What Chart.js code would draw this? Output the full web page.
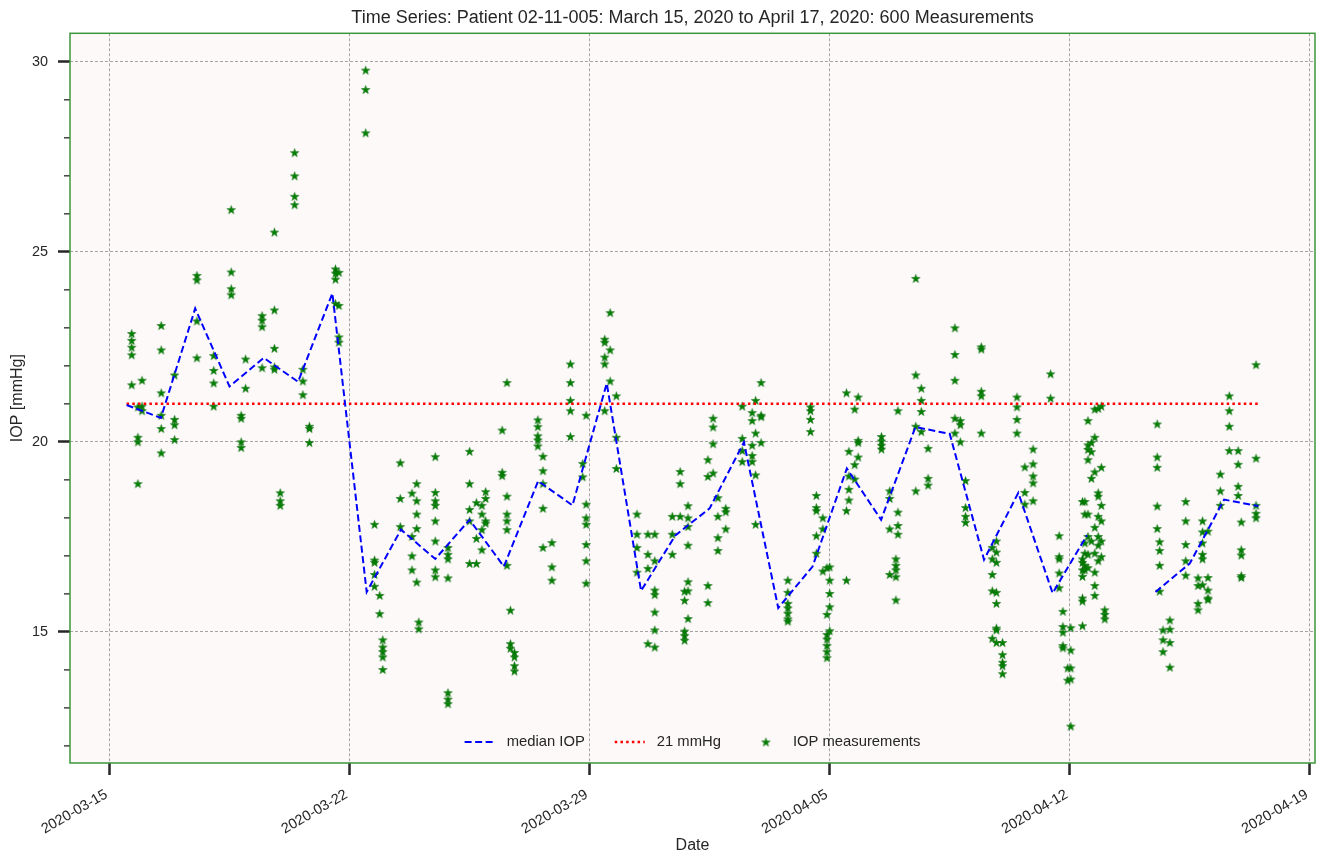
<!DOCTYPE html>
<html>
<head>
<meta charset="utf-8">
<title>IOP time series</title>
<script src="https://cdn.jsdelivr.net/npm/chart.js@4.4.1/dist/chart.umd.min.js"></script>
<style>
  html, body { margin: 0; padding: 0; background: #fff; }
  #chart { display: block; }
</style>
</head>
<body>
<canvas id="chart" width="1321" height="855"></canvas>
<script>
// x values are days since 2020-03-15 00:00
const dateTickDays = [0, 7, 14, 21, 28, 35];
const dateTickLabels = ['2020-03-15', '2020-03-22', '2020-03-29', '2020-04-05', '2020-04-12', '2020-04-19'];

// daily median, one per day from 2020-03-15 (null = no measurements that day)
const medianIop = [20.97, 20.63, 23.51, 21.46, 22.21, 21.58, 23.91, 16.05, 17.69, 16.92,
                   17.95, 16.72, 18.97, 18.33, 21.54, 16.08, 17.54, 18.25, 19.99, 15.63,
                   16.72, 19.30, 17.95, 20.39, 20.21, 16.90, 18.66, 16.02, 17.54, null,
                   16.05, 16.80, 18.48, 18.31];
const medianDays = medianIop.map((_, i) => i + 0.5);

const thresholdIop = 21;
const thresholdDays = [0.5, 33.5];

// measurement sessions: [day, [IOP values]]
const measurementColumns = [
  [0.65, [22.85, 22.67, 22.49, 22.29, 21.5]],
  [0.83, [20.92, 20.12, 20.0, 18.9]],
  [0.95, [21.62, 20.94, 20.82]],
  [1.51, [23.06, 22.42, 21.29, 20.7, 20.35, 19.71]],
  [1.9, [21.76, 20.59, 20.45, 20.06]],
  [2.55, [24.38, 24.26, 23.18, 22.21]],
  [3.04, [22.27, 21.88, 21.55, 20.94]],
  [3.55, [26.11, 24.47, 24.03, 23.87]],
  [3.84, [20.7, 20.62, 20.0, 19.85]],
  [3.97, [22.18, 21.41]],
  [4.45, [23.32, 23.2, 23.03, 21.95]],
  [4.81, [25.52, 23.47, 22.46, 21.97, 21.91]],
  [4.98, [18.66, 18.45, 18.33]],
  [5.4, [27.61, 27.0, 26.46, 26.24]],
  [5.64, [21.91, 21.6, 21.24]],
  [5.83, [20.41, 20.35, 19.98]],
  [6.59, [24.55, 24.44, 24.28, 23.64]],
  [6.69, [24.46, 23.59, 22.76, 22.62]],
  [7.47, [29.78, 29.27, 28.13]],
  [7.73, [17.83, 16.89, 16.83, 16.51, 16.2]],
  [7.88, [15.96, 15.48]],
  [7.97, [14.79, 14.6, 14.48, 14.34, 14.01]],
  [8.48, [19.45, 18.51, 17.77]],
  [8.82, [18.65, 17.51, 17.0, 16.63]],
  [8.96, [18.9, 18.45, 18.1, 17.72, 16.31]],
  [9.02, [15.26, 15.08]],
  [9.5, [19.61, 18.67, 18.45, 18.33, 17.92, 17.39, 16.63, 16.45]],
  [9.87, [17.22, 17.04, 16.92, 16.42, 13.4, 13.23, 13.11]],
  [10.5, [19.75, 18.9, 18.22, 17.92, 16.8]],
  [10.7, [18.4, 17.46, 16.8]],
  [10.86, [18.33, 18.1, 17.69, 17.16]],
  [10.97, [18.69, 18.51, 17.92, 17.86]],
  [11.45, [20.31, 19.2, 19.11]],
  [11.59, [21.56, 18.57, 18.1, 17.92, 17.69, 16.75]],
  [11.69, [15.57, 14.69, 14.57]],
  [11.81, [14.46, 14.34, 14.11, 13.97]],
  [12.49, [20.58, 20.4, 20.16, 20.05, 19.89]],
  [12.64, [19.62, 19.24, 18.9, 18.25, 17.22]],
  [12.9, [17.35, 16.71, 16.36]],
  [13.44, [22.05, 21.56, 21.09, 20.82, 20.14]],
  [13.8, [19.43, 19.08]],
  [13.9, [20.7, 18.36, 18.0, 17.83, 17.3, 16.87, 16.28]],
  [14.44, [22.7, 22.62, 22.23, 22.05, 20.82]],
  [14.6, [23.4, 22.42, 21.6]],
  [14.78, [21.21, 20.12, 19.3]],
  [15.38, [18.1, 17.57, 17.22, 16.57]],
  [15.7, [17.57, 17.04, 16.67, 14.69]],
  [15.9, [17.57, 16.87, 16.1, 15.98, 15.52, 15.05, 14.6]],
  [16.41, [18.04, 17.57, 17.04]],
  [16.64, [19.22, 18.04, 18.9]],
  [16.77, [16.07, 15.83, 15.02, 14.9, 14.78]],
  [16.87, [18.32, 18.0, 17.77, 17.28, 16.32, 16.08, 15.35]],
  [17.45, [19.53, 19.09, 16.22, 15.77]],
  [17.6, [20.62, 20.39, 19.95, 19.18]],
  [17.74, [18.53, 18.04, 17.48, 17.14]],
  [17.97, [18.25, 18.16, 17.71]],
  [18.45, [20.94, 20.09, 19.77, 19.48]],
  [18.74, [20.77, 20.56, 19.91, 19.64, 19.48]],
  [18.84, [21.09, 20.23, 19.13, 17.83]],
  [19.0, [21.56, 20.7, 20.66, 19.98]],
  [19.78, [16.36, 16.04, 15.75, 15.63, 15.49, 15.34, 15.28]],
  [20.44, [20.92, 20.82, 20.59, 20.27]],
  [20.61, [18.59, 18.27, 18.19, 17.53, 17.07]],
  [20.8, [18.0, 17.71, 16.6]],
  [20.92, [16.69, 15.46, 14.93, 14.81, 14.64, 14.48, 14.32]],
  [21.0, [16.71, 16.36, 16.01, 15.66, 15.03]],
  [21.49, [21.29, 18.19, 16.36]],
  [21.56, [19.75, 19.1, 18.75, 18.47]],
  [21.73, [20.86, 19.4, 19.02]],
  [21.83, [21.18, 20.04, 19.98, 19.6]],
  [22.51, [20.14, 20.02, 19.91, 19.81]],
  [22.75, [18.71, 18.51, 17.71, 16.51]],
  [22.93, [16.92, 16.75, 16.63, 16.45, 15.84]],
  [22.99, [20.82, 18.15, 17.8, 17.57]],
  [23.51, [24.3, 21.76, 20.41, 18.71]],
  [23.67, [21.41, 21.09, 20.8, 20.27]],
  [23.87, [19.83, 19.04, 18.86]],
  [24.65, [23.0, 22.3, 21.62, 20.62, 20.23]],
  [24.81, [20.56, 20.45, 20.0]],
  [24.96, [18.98, 18.27, 18.04, 17.88]],
  [25.42, [22.5, 22.44, 21.33, 21.21, 20.23]],
  [25.74, [17.22, 16.92, 16.51, 16.08, 14.83]],
  [25.86, [17.39, 17.1, 16.83, 16.04, 15.75, 15.1, 15.05, 14.72]],
  [26.04, [14.72, 14.4, 14.2, 14.11, 13.9]],
  [26.46, [21.18, 20.92, 20.59, 20.23]],
  [26.69, [19.34, 18.67, 18.36]],
  [26.93, [19.81, 19.42, 19.1, 18.92, 18.45]],
  [27.44, [21.79, 21.15]],
  [27.69, [17.53, 16.98, 16.92, 16.55, 16.16]],
  [27.8, [15.54, 15.14, 14.99, 14.64, 14.58]],
  [27.94, [14.05, 13.73]],
  [28.03, [15.11, 14.52, 14.05, 13.76, 12.52]],
  [28.37, [18.43, 16.92, 16.83, 16.63, 16.46, 15.89, 15.81, 15.16]],
  [28.44, [18.43, 18.10, 17.34, 17.07, 16.75, 16.63]],
  [28.53, [20.56, 19.92, 19.80, 19.53, 18.10, 17.51, 17.04, 16.69]],
  [28.63, [19.98, 19.74, 19.04, 17.39]],
  [28.73, [20.86, 20.12, 19.21, 17.75, 17.07, 16.57, 16.22, 15.96]],
  [28.83, [20.88, 18.66, 18.57, 18.04, 17.51, 17.28, 16.87]],
  [28.92, [20.94, 19.33, 18.33, 17.92, 17.39, 16.98]],
  [29.02, [15.58, 15.46, 15.34]],
  [30.55, [20.47, 19.60, 19.33, 18.31, 17.72]],
  [30.62, [17.37, 17.14, 16.75, 16.07]],
  [30.72, [15.05, 14.79, 14.48]],
  [30.92, [15.31, 15.07, 14.72, 14.07]],
  [31.38, [18.43, 17.92, 17.30, 16.87, 16.49]],
  [31.74, [16.42, 16.22, 15.75, 15.58]],
  [31.87, [17.92, 17.63, 17.34, 17.04, 16.92, 16.24]],
  [32.03, [17.65, 16.43, 16.10, 15.89, 15.85]],
  [32.39, [19.15, 18.71, 18.33]],
  [32.65, [21.21, 20.82, 20.41, 19.77]],
  [32.91, [19.77, 19.41, 18.83, 18.59]],
  [33.0, [17.89, 17.16, 17.02, 16.48, 16.43]],
  [33.43, [22.03, 19.57, 18.33, 18.12, 18.0]]
];

const FONT = '"Liberation Sans", Arial, Helvetica, sans-serif';
const TEXT = '#262626';
const GRID = '#9a9a9a';

Chart.defaults.font.family = FONT;
Chart.defaults.color = TEXT;

// filled five-pointed star like matplotlib's '*' marker
function makeStar(r, fill) {
    const size = Math.ceil(r * 2) + 2;
    const c = document.createElement('canvas');
    c.width = size;
    c.height = size;
    const g = c.getContext('2d');
    g.translate(size / 2, size / 2 + r * 0.1);
    g.beginPath();
    for (let i = 0; i < 10; i++) {
        const rr = i % 2 ? r * 0.39 : r;
        const a = -Math.PI / 2 + i * Math.PI / 5;
        g.lineTo(rr * Math.cos(a), rr * Math.sin(a));
    }
    g.closePath();
    g.fillStyle = fill;
    g.fill();
    g.strokeStyle = '#006400';
    g.lineWidth = 0.5;
    g.stroke();
    return c;
}
const starImg = makeStar(4.5, '#008000');

const measurements = measurementColumns.flatMap(([day, vals]) => vals.map(v => ({ x: day, y: v })));

// plot background, frame, minor ticks and the in-plot legend
const plotDecor = {
    id: 'plotDecor',
    beforeDraw(chart) {
        const { ctx, chartArea: a } = chart;
        ctx.save();
        ctx.fillStyle = '#ffffff';
        ctx.fillRect(0, 0, chart.width, chart.height);
        ctx.fillStyle = '#fcf9f8';
        ctx.fillRect(a.left, a.top, a.right - a.left, a.bottom - a.top);
        ctx.restore();
    },
    afterDraw(chart) {
        const { ctx, chartArea: a } = chart;
        const yScale = chart.scales.y;
        ctx.save();

        // minor y ticks
        ctx.strokeStyle = TEXT;
        ctx.lineWidth = 1.3;
        for (let v = Math.ceil(yScale.min); v <= yScale.max; v++) {
            if (v % 5 === 0) continue;
            const py = yScale.getPixelForValue(v);
            ctx.beginPath();
            ctx.moveTo(a.left - 6, py);
            ctx.lineTo(a.left, py);
            ctx.stroke();
        }

        // frame
        ctx.strokeStyle = '#3c963c';
        ctx.lineWidth = 1.5;
        ctx.strokeRect(a.left, a.top, a.right - a.left, a.bottom - a.top);

        // legend
        const ds = chart.data.datasets;
        const handle = 30, pad = 12, gap = 30;
        ctx.font = '14.8px ' + FONT;
        const widths = ds.map(d => handle + pad + ctx.measureText(d.label).width);
        const total = widths.reduce((s, w) => s + w, 0) + gap * (ds.length - 1);
        let x = (a.left + a.right) / 2 - total / 2;
        const ly = a.bottom - 21;
        ds.forEach((d, i) => {
            if (d.showLine) {
                ctx.beginPath();
                ctx.setLineDash(d.borderDash);
                ctx.strokeStyle = d.borderColor;
                ctx.lineWidth = d.borderWidth;
                ctx.moveTo(x, ly);
                ctx.lineTo(x + handle, ly);
                ctx.stroke();
                ctx.setLineDash([]);
            } else {
                ctx.drawImage(starImg, x + handle / 2 - starImg.width / 2, ly - starImg.height / 2);
            }
            ctx.fillStyle = TEXT;
            ctx.textBaseline = 'middle';
            ctx.textAlign = 'left';
            ctx.fillText(d.label, x + handle + pad, ly);
            x += widths[i] + gap;
        });
        ctx.restore();
    }
};

new Chart(document.getElementById('chart'), {
    type: 'scatter',
    data: {
        datasets: [
            {
                label: 'median IOP',
                data: medianIop.map((v, i) => ({ x: medianDays[i], y: v })),
                showLine: true,
                spanGaps: false,
                borderColor: '#0000ff',
                borderWidth: 2,
                borderDash: [7, 3.5],
                pointRadius: 0
            },
            {
                label: '21 mmHg',
                data: thresholdDays.map(d => ({ x: d, y: thresholdIop })),
                showLine: true,
                borderColor: '#ff0000',
                borderWidth: 2.5,
                borderDash: [2.5, 3.2],
                pointRadius: 0
            },
            {
                label: 'IOP measurements',
                data: measurements,
                showLine: false,
                pointStyle: starImg,
                pointRadius: 4.5
            }
        ]
    },
    options: {
        responsive: false,
        animation: false,
        devicePixelRatio: 1,
        layout: { padding: { left: 0, right: 6, top: 0, bottom: 0 } },
        plugins: {
            legend: { display: false },
            tooltip: { enabled: false },
            title: {
                display: true,
                fullSize: false,
                text: 'Time Series: Patient 02-11-005: March 15, 2020 to April 17, 2020: 600 Measurements',
                color: TEXT,
                font: { size: 18, weight: 'normal' },
                padding: { top: 7, bottom: 4.7 }
            }
        },
        scales: {
            x: {
                type: 'linear',
                min: -1.15,
                max: 35.15,
                afterBuildTicks: s => { s.ticks = dateTickDays.map(v => ({ value: v })); },
                afterFit: s => { s.height = 92; s.paddingLeft = 0; s.paddingRight = 0; },
                ticks: {
                    autoSkip: false,
                    minRotation: 30,
                    maxRotation: 30,
                    padding: 11,
                    labelOffset: -3,
                    color: TEXT,
                    font: { size: 14.4 },
                    callback: (v, i) => dateTickLabels[i]
                },
                grid: {
                    color: GRID,
                    lineWidth: 0.9,
                    tickLength: 12,
                    tickWidth: 2.5,
                    tickColor: TEXT,
                    tickBorderDash: []
                },
                border: { display: false, dash: [3, 2] },
                title: {
                    display: true,
                    text: 'Date',
                    color: TEXT,
                    font: { size: 16 },
                    padding: { top: 0, bottom: 0 }
                }
            },
            y: {
                type: 'linear',
                min: 11.55,
                max: 30.75,
                afterFit: s => { s.width = 70; },
                ticks: {
                    stepSize: 1,
                    includeBounds: false,
                    autoSkip: false,
                    padding: 10,
                    color: TEXT,
                    font: { size: 14.4 },
                    callback: v => (v % 5 === 0 ? String(v) : '')
                },
                grid: {
                    color: c => (c.tick && c.tick.value % 5 === 0 ? GRID : 'rgba(0,0,0,0)'),
                    tickColor: c => (c.tick && c.tick.value % 5 === 0 ? TEXT : 'rgba(0,0,0,0)'),
                    lineWidth: 0.9,
                    tickLength: 12,
                    tickWidth: 2.5,
                    tickBorderDash: []
                },
                border: { display: false, dash: [3, 2] },
                title: {
                    display: true,
                    text: 'IOP [mmHg]',
                    color: TEXT,
                    font: { size: 16 },
                    padding: { top: 8.4, bottom: 0 }
                }
            }
        }
    },
    plugins: [plotDecor]
});
</script>
</body>
</html>
